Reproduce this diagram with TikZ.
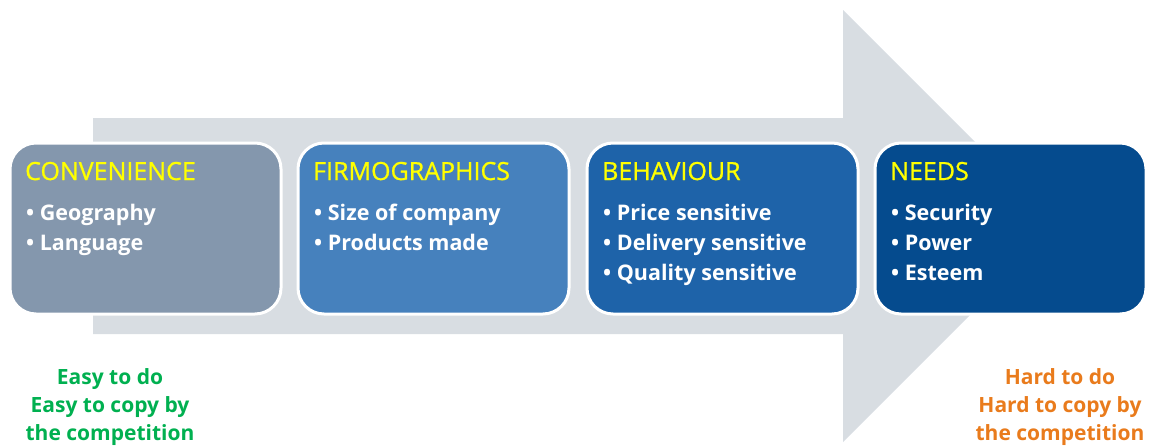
\documentclass[tikz,border=0pt]{standalone}
\usepackage{fontspec}
\setmainfont{Open Sans}
\newfontfamily\titlefont{Open Sans}[FakeBold=0.8]
\definecolor{arrowgray}{HTML}{D8DDE2}
\definecolor{stageA}{HTML}{8497AD}
\definecolor{stageB}{HTML}{4681BD}
\definecolor{stageC}{HTML}{1E63A9}
\definecolor{stageD}{HTML}{054B8E}
\definecolor{titleyellow}{HTML}{FFFF00}
\definecolor{easygreen}{HTML}{00B050}
\definecolor{hardorange}{HTML}{E97B1C}
\begin{document}
\begin{tikzpicture}[x=1pt,y=-1pt,
  stagebox/.style={draw=white, line width=3pt, rounded corners=26pt,
    minimum width=271pt, minimum height=171pt, anchor=north west, inner sep=0pt},
  ttl/.style={anchor=base west, text=titleyellow, inner sep=0pt,
    font=\titlefont\fontsize{25}{25}\selectfont},
  itemline/.style={anchor=base west, text=white, inner sep=0pt,
    font=\bfseries\fontsize{21.5}{30}\selectfont},
  remark/.style={anchor=base, inner sep=0pt,
    font=\bfseries\fontsize{21}{28}\selectfont}]
\useasboundingbox (0,0) rectangle (1152,445);
% broad arrow behind the stages
\fill[arrowgray] (93,118) -- (843,118) -- (843,10) -- (1059,226)
  -- (843,442) -- (843,334) -- (93,334) -- cycle;
% stages
\node[stagebox, fill=stageA] (conv) at (8.5,141.5) {};
\node[stagebox, fill=stageB] (firm) at (296.5,141.5) {};
\node[stagebox, fill=stageC] (behav) at (585.5,141.5) {};
\node[stagebox, fill=stageD] (needs) at (873.5,141.5) {};
% titles
\node[ttl] (convT) at (25,180) {CONVENIENCE};
\node[ttl] (firmT) at (313,180) {FIRMOGRAPHICS};
\node[ttl] (behavT) at (602,180) {BEHAVIOUR};
\node[ttl] (needsT) at (890,180) {NEEDS};
% bullet lists, one line every 30pt
\foreach \t [count=\i] in {Geography, Language}
  \node[itemline] (conv-\i) at (26,190+30*\i) {• \t};
\foreach \t [count=\i] in {Size of company, Products made}
  \node[itemline] (firm-\i) at (314,190+30*\i) {• \t};
\foreach \t [count=\i] in {Price sensitive, Delivery sensitive, Quality sensitive}
  \node[itemline] (behav-\i) at (603,190+30*\i) {• \t};
\foreach \t [count=\i] in {Security, Power, Esteem}
  \node[itemline] (needs-\i) at (891,190+30*\i) {• \t};
% effort remarks
\foreach \t [count=\i] in {Easy to do, Easy to copy by, the competition}
  \node[remark, text=easygreen] (easy-\i) at (110,356+28*\i) {\t};
\foreach \t [count=\i] in {Hard to do, Hard to copy by, the competition}
  \node[remark, text=hardorange] (hard-\i) at (1060,356+28*\i) {\t};
\end{tikzpicture}
\end{document}
